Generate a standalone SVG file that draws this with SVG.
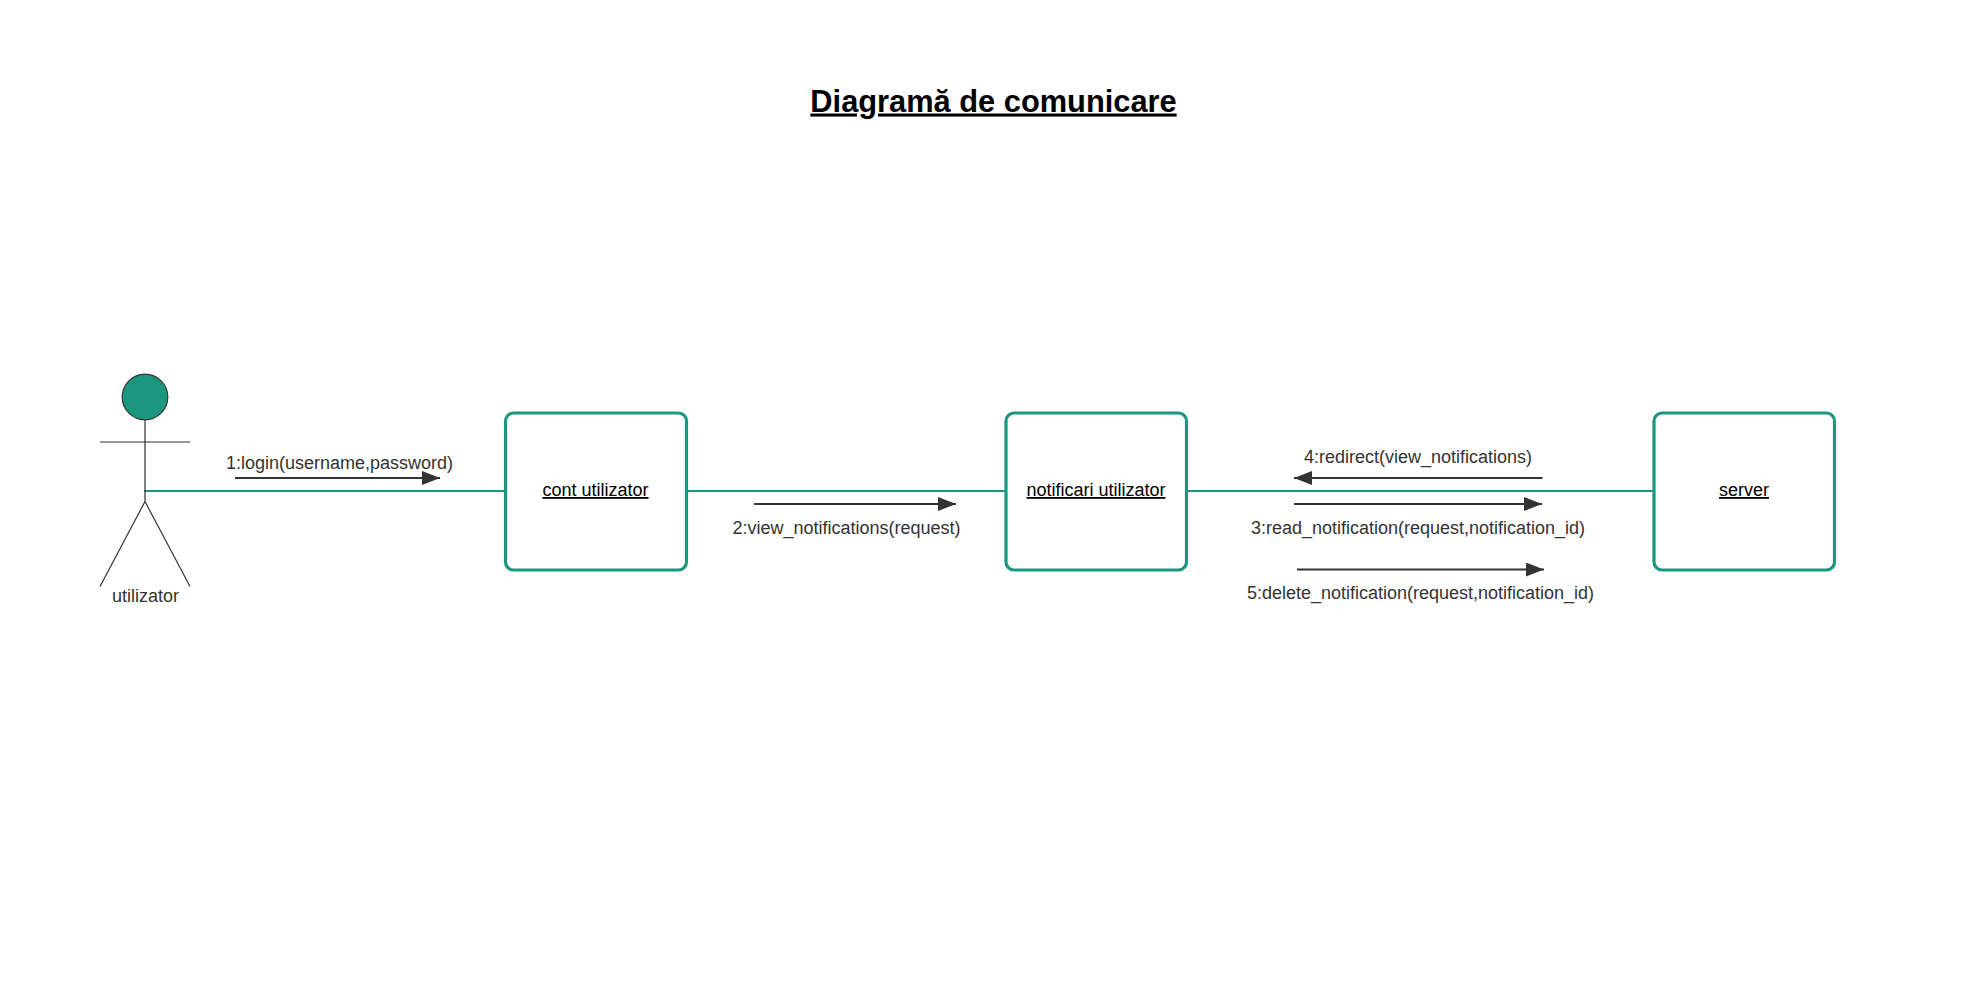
<svg xmlns="http://www.w3.org/2000/svg" width="1986" height="1008" viewBox="0 0 1986 1008">
<style>
text{font-family:"Liberation Sans",Arial,sans-serif;text-anchor:middle}
.t{font-size:30.800px;font-weight:bold;fill:#000;text-decoration:underline}
.n{font-size:18px;fill:#000;text-decoration:underline}
.l{font-size:18px;fill:#333}
.box{fill:#fff;stroke:#1a977d;stroke-width:3.200}
.c{fill:none;stroke:#1a977d;stroke-width:2}
.a{fill:none;stroke:#333;stroke-width:2;marker-end:url(#h)}
.s{fill:none;stroke:#333;stroke-width:1.200}
</style>
<defs><marker id="h" markerUnits="userSpaceOnUse" markerWidth="18" markerHeight="14" refX="18" refY="7" orient="auto"><path d="M0 0L18 7L0 14Z" fill="#333"/></marker></defs>
<rect width="1986" height="1008" fill="#fff"/>
<text class="t" x="993.500" y="111.500">Diagramă de comunicare</text>
<g id="connectors">
<path class="c" d="M144 491H505"/><path class="c" d="M687 491H1006"/><path class="c" d="M1187 491H1654"/>
<path class="a" d="M235 478H440"/>
<path class="a" d="M754 504H956"/>
<path class="a" d="M1542.500 478H1294"/>
<path class="a" d="M1294 504H1542"/>
<path class="a" d="M1297 569.500H1544"/>
</g>
<g id="actor">
<circle cx="145" cy="397" r="22.800" fill="#1a977d" stroke="#333" stroke-width="1.200"/>
<path class="s" d="M145 420V501.500M100 442H190M145 501.500L100 586.500M145 501.500L190 586.500"/>
<text class="l" x="145.500" y="601.500">utilizator</text>
</g>
<g id="cont"><rect class="box" x="505.500" y="413" width="181" height="157" rx="8"/><text class="n" x="595.500" y="496">cont utilizator</text></g>
<g id="notificari"><rect class="box" x="1006" y="413" width="180.500" height="157" rx="8"/><text class="n" x="1096" y="496">notificari utilizator</text></g>
<g id="server"><rect class="box" x="1654" y="413" width="180.500" height="157" rx="8"/><text class="n" x="1744" y="496">server</text></g>
<text class="l" x="339.500" y="469">1:login(username,password)</text>
<text class="l" x="846.500" y="534">2:view_notifications(request)</text>
<text class="l" x="1418" y="462.500">4:redirect(view_notifications)</text>
<text class="l" x="1418" y="534">3:read_notification(request,notification_id)</text>
<text class="l" x="1420.500" y="599">5:delete_notification(request,notification_id)</text>
</svg>
